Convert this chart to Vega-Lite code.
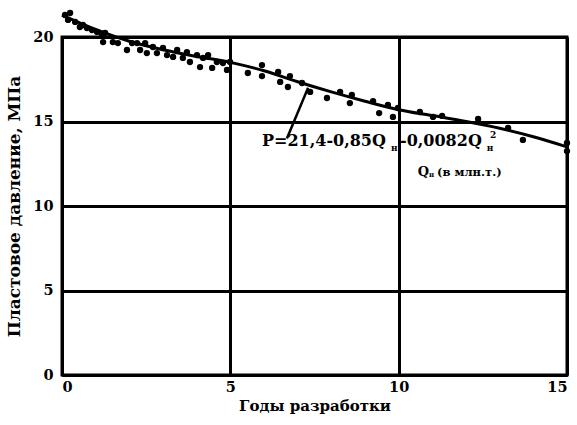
{
  "$schema": "https://vega.github.io/schema/vega-lite/v6.json",
  "width": 505,
  "height": 338,
  "autosize": {"type": "none"},
  "padding": {"left": 62, "top": 37, "right": 10, "bottom": 50},
  "background": "white",
  "config": {
    "view": {"stroke": "black", "strokeWidth": 3},
    "font": "DejaVu Serif",
    "axis": {
      "grid": true, "gridColor": "black", "gridWidth": 3, "gridOpacity": 1,
      "domainColor": "black", "domainWidth": 3,
      "ticks": false,
      "labelFont": "DejaVu Serif", "labelFontWeight": "bold", "labelFontSize": 14.5, "labelColor": "black",
      "titleFont": "DejaVu Serif", "titleFontWeight": "bold", "titleColor": "black"
    },
    "text": {"font": "DejaVu Serif", "fontWeight": "bold", "color": "black", "align": "left", "baseline": "alphabetic"}
  },
  "datasets": {
    "pts": [
      {"t":0.09,"p":21.30},{"t":0.24,"p":21.42},{"t":0.18,"p":21.01},{"t":0.39,"p":20.89},{"t":0.53,"p":20.59},
      {"t":0.62,"p":20.71},{"t":0.74,"p":20.53},{"t":0.89,"p":20.41},{"t":1.04,"p":20.30},{"t":1.19,"p":20.12},
      {"t":1.22,"p":19.70},{"t":1.28,"p":20.24},{"t":1.51,"p":19.70},{"t":1.66,"p":19.64},{"t":1.93,"p":19.23},
      {"t":2.08,"p":19.64},{"t":2.23,"p":19.64},{"t":2.32,"p":19.23},{"t":2.47,"p":19.64},{"t":2.52,"p":19.05},
      {"t":2.70,"p":19.41},{"t":2.82,"p":19.05},{"t":3.00,"p":19.35},{"t":3.12,"p":18.93},{"t":3.30,"p":18.82},
      {"t":3.42,"p":19.23},{"t":3.59,"p":18.76},{"t":3.71,"p":19.11},{"t":3.80,"p":18.52},{"t":4.01,"p":18.93},
      {"t":4.10,"p":18.22},{"t":4.19,"p":18.76},{"t":4.34,"p":18.93},{"t":4.46,"p":18.17},{"t":4.60,"p":18.52},
      {"t":4.78,"p":18.46},{"t":4.90,"p":18.05},{"t":4.99,"p":18.52},{"t":5.52,"p":17.87},{"t":5.94,"p":18.34},
      {"t":5.94,"p":17.69},{"t":6.42,"p":17.93},{"t":6.48,"p":17.34},{"t":6.77,"p":17.69},{"t":6.71,"p":17.04},
      {"t":7.13,"p":17.28},{"t":7.37,"p":16.75},{"t":7.87,"p":16.39},{"t":8.26,"p":16.75},{"t":8.61,"p":16.57},
      {"t":8.55,"p":16.09},{"t":9.24,"p":16.21},{"t":9.42,"p":15.50},{"t":9.68,"p":15.98},{"t":9.83,"p":15.27},
      {"t":9.98,"p":15.80},{"t":10.63,"p":15.56},{"t":11.02,"p":15.27},{"t":11.29,"p":15.33},{"t":12.36,"p":15.15},
      {"t":13.25,"p":14.62},{"t":13.69,"p":13.91},{"t":15.00,"p":13.73},{"t":15.00,"p":13.25}
    ],
    "fit": [
      {"t":0,"p":21.3},{"t":1,"p":20.45},{"t":2,"p":19.75},{"t":3,"p":19.25},{"t":4,"p":18.85},{"t":5,"p":18.5},
      {"t":6,"p":18.0},{"t":7,"p":17.35},{"t":8,"p":16.75},{"t":9,"p":16.2},{"t":10,"p":15.7},{"t":11,"p":15.35},
      {"t":12,"p":15.0},{"t":13,"p":14.6},{"t":14,"p":14.1},{"t":15,"p":13.5}
    ]
  },
  "layer": [
    {
      "data": {"name": "pts"},
      "mark": {"type": "circle", "color": "black", "opacity": 1, "size": 40},
      "encoding": {
        "x": {"field": "t", "type": "quantitative", "scale": {"domain": [0, 15], "nice": false},
              "axis": {"values": [0, 5, 10, 15], "title": "Годы разработки", "titleFontSize": 15, "labelPadding": 5, "titlePadding": 5}},
        "y": {"field": "p", "type": "quantitative", "scale": {"domain": [0, 20], "nice": false},
              "axis": {"values": [0, 5, 10, 15, 20], "title": "Пластовое давление, МПа", "titleFontSize": 17, "labelPadding": 9, "titlePadding": 9}}
      }
    },
    {
      "data": {"name": "fit"},
      "mark": {"type": "line", "color": "black", "strokeWidth": 3, "interpolate": "monotone"},
      "encoding": {
        "x": {"field": "t", "type": "quantitative"},
        "y": {"field": "p", "type": "quantitative"}
      }
    },
    {
      "data": {"values": [{"t": 6.68, "p": 14.0, "t2": 7.31, "p2": 17.0}]},
      "mark": {"type": "rule", "color": "black", "strokeWidth": 2.5},
      "encoding": {
        "x": {"field": "t", "type": "quantitative"},
        "y": {"field": "p", "type": "quantitative"},
        "x2": {"field": "t2"},
        "y2": {"field": "p2"}
      }
    },
    {
      "data": {"values": [{"t": 5.94, "p": 13.55, "s": "P=21,4-0,85Q"}, {"t": 10.04, "p": 13.55, "s": "-0,0082Q"}]},
      "mark": {"type": "text", "fontSize": 16},
      "encoding": {
        "x": {"field": "t", "type": "quantitative"},
        "y": {"field": "p", "type": "quantitative"},
        "text": {"field": "s"}
      }
    },
    {
      "data": {"values": [{"t": 9.77, "p": 13.25, "s": "н"}, {"t": 12.62, "p": 13.25, "s": "н"}, {"t": 12.71, "p": 14.0, "s": "2"}]},
      "mark": {"type": "text", "fontSize": 9},
      "encoding": {
        "x": {"field": "t", "type": "quantitative"},
        "y": {"field": "p", "type": "quantitative"},
        "text": {"field": "s"}
      }
    },
    {
      "data": {"values": [{"t": 10.57, "p": 11.78, "s": "Q"}]},
      "mark": {"type": "text", "fontSize": 13},
      "encoding": {
        "x": {"field": "t", "type": "quantitative"},
        "y": {"field": "p", "type": "quantitative"},
        "text": {"field": "s"}
      }
    },
    {
      "data": {"values": [{"t": 10.9, "p": 11.7, "s": "н"}]},
      "mark": {"type": "text", "fontSize": 7},
      "encoding": {
        "x": {"field": "t", "type": "quantitative"},
        "y": {"field": "p", "type": "quantitative"},
        "text": {"field": "s"}
      }
    },
    {
      "data": {"values": [{"t": 11.14, "p": 11.78, "s": "(в млн.т.)"}]},
      "mark": {"type": "text", "fontSize": 11.5},
      "encoding": {
        "x": {"field": "t", "type": "quantitative"},
        "y": {"field": "p", "type": "quantitative"},
        "text": {"field": "s"}
      }
    }
  ]
}
